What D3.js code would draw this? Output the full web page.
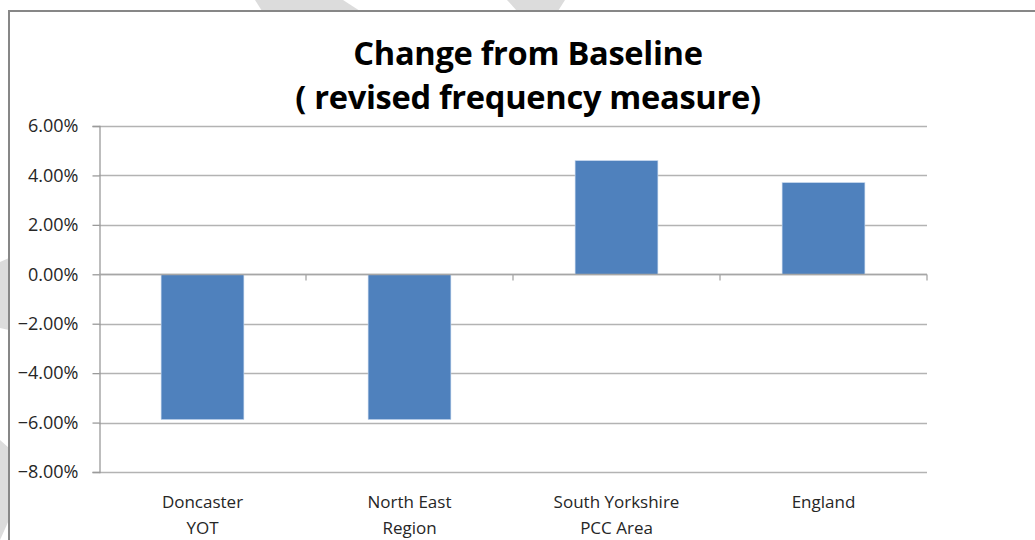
<!DOCTYPE html>
<html>
<head>
<meta charset="utf-8">
<script src="https://cdn.jsdelivr.net/npm/d3@7"></script>
<style>
  html, body { margin: 0; padding: 0; background: #fff; }
  svg { display: block; }
</style>
</head>
<body>
<svg id="chart" width="1035" height="540"></svg>
<script>
// ---- Data ----
const categories = [["Doncaster", "YOT"], ["North East", "Region"], ["South Yorkshire", "PCC Area"], ["England"]];
const categoryKeys = ["Doncaster YOT", "North East Region", "South Yorkshire PCC Area", "England"];
const values = [-0.0588, -0.0588, 0.0460, 0.0371];
const yTicks = [0.06, 0.04, 0.02, 0.00, -0.02, -0.04, -0.06, -0.08];
const titleLines = ["Change from Baseline", "( revised frequency measure)"];

// ---- Layout ----
const svg = d3.select("#chart");
const W = 1035, H = 540;
const plot = { left: 99, right: 927, top: 126, bottom: 472 };
const font = "'Open Sans', Lato, sans-serif";

// background watermark fragments (light grey)
const wm = svg.append("g").attr("fill", "#dcdcdc");
wm.append("path").attr("d", "M255,0 L343,0 L360,11 L262,11 Z");
wm.append("path").attr("d", "M507,0 L565,0 L558,11 L517,11 Z");
wm.append("path").attr("d", "M0,262 L9,258 L9,330 L0,328 Z");
wm.append("path").attr("d", "M0,440 L9,448 L9,520 L0,540 Z");

// outer chart border
svg.append("path")
  .attr("d", `M9,${H + 2} L9,11 L${W + 2},11`)
  .attr("fill", "none")
  .attr("stroke", "#878787")
  .attr("stroke-width", 2);

// scales
const x = d3.scaleBand().domain(categoryKeys).range([plot.left, plot.right]).paddingInner(0).paddingOuter(0);
const y = d3.scaleLinear().domain([-0.08, 0.06]).range([plot.bottom, plot.top]);
const barW = x.bandwidth() / 2.5;

// gridlines
svg.append("g").selectAll("line").data(yTicks).join("line")
  .attr("x1", plot.left).attr("x2", plot.right)
  .attr("y1", d => Math.round(y(d)) + 0.5).attr("y2", d => Math.round(y(d)) + 0.5)
  .attr("stroke", "#b3b3b3").attr("stroke-width", 1.3);

// y axis
const yAxis = d3.axisLeft(y).tickValues(yTicks).tickFormat(d3.format(".2%")).tickSize(7).tickPadding(14);
const gy = svg.append("g").attr("transform", `translate(${plot.left + 0.5},0)`).call(yAxis);
gy.select(".domain").attr("stroke", "#9a9a9a").attr("stroke-width", 1.3);
gy.selectAll(".tick line").attr("stroke", "#9a9a9a").attr("stroke-width", 1.3);
gy.selectAll(".tick text")
  .attr("font-family", font).attr("font-size", 18).attr("fill", "#262626");

// bars
svg.append("g").selectAll("rect").data(values).join("rect")
  .attr("x", (d, i) => x(categoryKeys[i]) + (x.bandwidth() - barW) / 2)
  .attr("width", barW)
  .attr("y", d => y(Math.max(0, d)))
  .attr("height", d => Math.abs(y(d) - y(0)))
  .attr("fill", "#4f81bd")
  .attr("stroke", "#c9d9ee").attr("stroke-width", 0.6);

// category axis at zero
const zeroY = Math.round(y(0)) + 0.5;
svg.append("line")
  .attr("x1", plot.left).attr("x2", plot.right)
  .attr("y1", zeroY).attr("y2", zeroY)
  .attr("stroke", "#a6a6a6").attr("stroke-width", 1.3);
const boundaries = categoryKeys.slice(1).map(k => x(k)).concat([plot.right]);
svg.append("g").selectAll("line").data(boundaries).join("line")
  .attr("x1", d => d).attr("x2", d => d)
  .attr("y1", zeroY).attr("y2", zeroY + 6)
  .attr("stroke", "#a6a6a6").attr("stroke-width", 1.3);

// category labels below plot
const catG = svg.append("g").selectAll("text").data(categories).join("text")
  .attr("x", (d, i) => x(categoryKeys[i]) + x.bandwidth() / 2)
  .attr("y", 508)
  .attr("text-anchor", "middle")
  .attr("font-family", font).attr("font-size", 17).attr("fill", "#262626");
catG.selectAll("tspan").data(d => d).join("tspan")
  .attr("x", function () { return d3.select(this.parentNode).attr("x"); })
  .attr("dy", (d, i) => i === 0 ? 0 : 26)
  .text(d => d);

// title (font size fitted to the reference line width)
const titleTargetW = 474;
const titleG = svg.append("g").selectAll("text").data(titleLines).join("text")
  .attr("x", 528)
  .attr("y", (d, i) => i === 0 ? 65 : 109)
  .attr("text-anchor", "middle")
  .attr("font-family", font).attr("font-weight", "bold").attr("font-size", 30)
  .attr("fill", "#000")
  .text(d => d);
const w2 = titleG.nodes()[1].getComputedTextLength();
const fs = 30 * titleTargetW / w2;
titleG.attr("font-size", fs).attr("letter-spacing", -0.3);
</script>
</body>
</html>
